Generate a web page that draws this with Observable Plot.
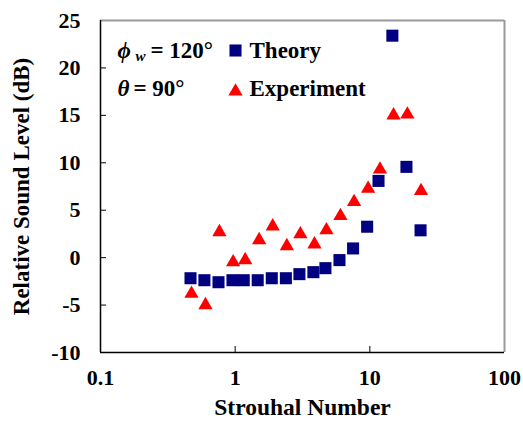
<!DOCTYPE html>
<html><head><meta charset="utf-8">
<script src="https://cdn.jsdelivr.net/npm/d3@7"></script>
<script src="https://cdn.jsdelivr.net/npm/@observablehq/plot@0.6"></script>
<style>body{margin:0;background:#fff}</style>
</head><body><div id="chart"></div>
<script>
const strouhalTheory = [0.466, 0.591, 0.752, 0.955, 1.158, 1.47, 1.87, 2.38, 3.0, 3.81, 4.68, 5.95, 7.51, 9.55, 11.6, 14.7, 18.7, 23.8];
const levelTheory    = [-2.17, -2.38, -2.59, -2.38, -2.38, -2.38, -2.17, -2.17, -1.74, -1.53, -1.11, -0.26, 0.97, 3.26, 8.09, 23.4, 9.57, 2.88];
const strouhalExp = [0.474, 0.602, 0.764, 0.966, 1.187, 1.507, 1.90, 2.42, 3.05, 3.88, 4.76, 6.05, 7.64, 9.71, 11.9, 15.0, 19.0, 24.0];
const levelExp    = [-3.8, -5.0, 2.7, -0.48, -0.26, 1.85, 3.3, 1.22, 2.48, 1.4, 2.9, 4.4, 5.87, 7.27, 9.3, 15.0, 15.1, 7.03];
const xTicks = [0.1, 1, 10, 100];
const xTickLabels = ["0.1", "1", "10", "100"];
const yTicks = [-10, -5, 0, 5, 10, 15, 20, 25];
const yTickLabels = ["-10", "-5", "0", "5", "10", "15", "20", "25"];
const xTitle = "Strouhal Number";
const yTitle = "Relative Sound Level (dB)";
const seriesNames = ["Theory", "Experiment"];
const seriesColors = ["#000080", "#ff0000"];

const theory = strouhalTheory.map((x, i) => ({x, y: levelTheory[i]}));
const experiment = strouhalExp.map((x, i) => ({x, y: levelExp[i]}));

const font = "'Liberation Serif', 'Times New Roman', serif";
const plot = Plot.plot({
  width: 523, height: 421,
  marginTop: 20, marginLeft: 100, marginRight: 19, marginBottom: 69,
  style: {fontFamily: font, fontSize: "22px", fontWeight: "bold", background: "white", overflow: "visible", color: "black"},
  x: {type: "log", domain: [0.1, 100]},
  y: {domain: [-10, 25]},
  marks: [
    Plot.axisX(xTicks, {tickSize: 0, tickPadding: 17, tickFormat: d => xTickLabels[xTicks.indexOf(d)], label: null}),
    Plot.axisY(yTicks, {tickSize: 0, tickPadding: 20, tickFormat: d => yTickLabels[yTicks.indexOf(d)], label: null}),
    Plot.tickX(xTicks, {x: d => d, insetTop: 326, stroke: "black"}),
    Plot.tickY(yTicks, {y: d => d, insetRight: 398, stroke: "black"}),
    Plot.ruleY([25], {stroke: "#999", strokeWidth: 2}),
    Plot.ruleX([100], {stroke: "#999", strokeWidth: 2}),
    Plot.ruleX([0.1], {stroke: "black", strokeWidth: 1.5}),
    Plot.ruleY([-10], {stroke: "black", strokeWidth: 1.5}),
    Plot.dot(theory, {x: "x", y: "y", symbol: "square", r: 6.8, fill: seriesColors[0], stroke: null}),
    Plot.dot(experiment, {x: "x", y: "y", symbol: "triangle", r: 5.3, fill: seriesColors[1], stroke: null}),
    // axis titles
    Plot.text([xTitle], {text: d => d, frameAnchor: "bottom", dy: 62, lineAnchor: "bottom", fontSize: 23.5, fontWeight: "bold"}),
    Plot.text([yTitle], {text: d => d, frameAnchor: "left", dx: -72, rotate: -90, textAnchor: "middle", lineAnchor: "bottom", fontSize: 23, fontWeight: "bold"}),
    // annotations
    Plot.text(["ϕ"], {text: d => d, frameAnchor: "top-left", dx: 17, dy: 37, lineAnchor: "bottom", textAnchor: "start", fontStyle: "italic", fontSize: 23}),
    Plot.text(["w"], {text: d => d, frameAnchor: "top-left", dx: 35, dy: 40, lineAnchor: "bottom", textAnchor: "start", fontStyle: "italic", fontSize: 15}),
    Plot.text(["= 120°"], {text: d => d, frameAnchor: "top-left", dx: 50, dy: 37, lineAnchor: "bottom", textAnchor: "start", fontSize: 23}),
    Plot.text(["θ"], {text: d => d, frameAnchor: "top-left", dx: 17, dy: 75, lineAnchor: "bottom", textAnchor: "start", fontStyle: "italic", fontSize: 23}),
    Plot.text(["= 90°"], {text: d => d, frameAnchor: "top-left", dx: 33, dy: 75, lineAnchor: "bottom", textAnchor: "start", fontSize: 23}),
    // legend
    Plot.dot([seriesNames[0]], {frameAnchor: "top-left", dx: 135, dy: 30, symbol: "square", r: 6.8, fill: seriesColors[0], stroke: null}),
    Plot.dot([seriesNames[1]], {frameAnchor: "top-left", dx: 135, dy: 71, symbol: "triangle", r: 5.3, fill: seriesColors[1], stroke: null}),
    Plot.text([seriesNames[0]], {text: d => d, frameAnchor: "top-left", dx: 149, dy: 37, lineAnchor: "bottom", textAnchor: "start", fontSize: 23}),
    Plot.text([seriesNames[1]], {text: d => d, frameAnchor: "top-left", dx: 149, dy: 75, lineAnchor: "bottom", textAnchor: "start", fontSize: 23})
  ]
});
document.getElementById("chart").appendChild(plot);
</script>
</body></html>
